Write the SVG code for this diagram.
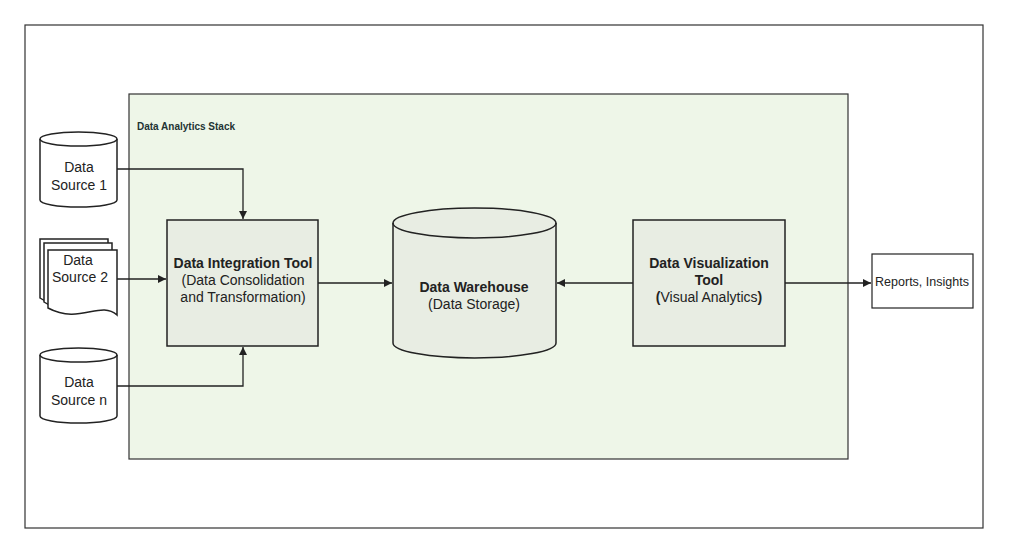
<svg xmlns="http://www.w3.org/2000/svg" width="1024" height="554" viewBox="0 0 1024 554">
<defs>
<style>
text{font-family:"Liberation Sans",Arial,sans-serif;font-size:14px;fill:#222;text-anchor:middle}
.b{font-weight:bold}
.sh{stroke:#222;stroke-width:1.5}
.ln{fill:none;stroke:#222;stroke-width:1.3}
</style>
<marker id="a" viewBox="0 0 10 10" refX="10" refY="5" markerWidth="8" markerHeight="8" orient="auto" markerUnits="userSpaceOnUse"><path d="M0,0L10,5L0,10z" fill="#222"/></marker>
</defs>
<rect width="1024" height="554" fill="#fff"/>
<rect x="25" y="25" width="958" height="503" fill="#fff" stroke="#333" stroke-width="1.2"/>
<g id="stack">
<rect x="129" y="94" width="719" height="365" fill="#eef6e8" stroke="#333" stroke-width="1.2"/>
<text x="137" y="130" class="b" style="font-size:10px;text-anchor:start;fill:#233">Data Analytics Stack</text>
</g>
<g id="ds1">
<path class="sh" fill="#fff" d="M40,139 A38.5,7 0 0 1 117,139 V200 A38.5,7 0 0 1 40,200 Z"/>
<path class="sh" fill="none" d="M40,139 A38.5,7 0 0 0 117,139"/>
<text x="79" y="172">Data</text><text x="79" y="190">Source 1</text>
</g>
<g id="ds2">
<path class="sh" fill="#fff" d="M40,239 H108 V300 C90,290 70,318 40,298 Z"/>
<path class="sh" fill="#fff" d="M44,243 H112 V304 C94,294 74,322 44,302 Z"/>
<path class="sh" fill="#fff" d="M48,250 H117 V315 C100,300 80,325 48,308 Z"/>
<text x="78" y="265">Data</text><text x="80" y="282">Source 2</text>
</g>
<g id="dsn">
<path class="sh" fill="#fff" d="M40,355 A38.5,7 0 0 1 117,355 V416 A38.5,7 0 0 1 40,416 Z"/>
<path class="sh" fill="none" d="M40,355 A38.5,7 0 0 0 117,355"/>
<text x="79" y="387">Data</text><text x="79" y="405">Source n</text>
</g>
<g id="integration">
<rect class="sh" x="167" y="220" width="151" height="126" fill="#e8ede3"/>
<text x="243" y="268" class="b">Data Integration Tool</text>
<text x="243" y="285">(Data Consolidation</text>
<text x="243" y="302">and Transformation)</text>
</g>
<g id="warehouse">
<path class="sh" fill="#e8ede3" d="M393,223 A81.5,15 0 0 1 556,223 V343 A81.5,15 0 0 1 393,343 Z"/>
<path class="sh" fill="none" d="M393,223 A81.5,15 0 0 0 556,223"/>
<text x="474" y="292" class="b">Data Warehouse</text>
<text x="474" y="309">(Data Storage)</text>
</g>
<g id="viz">
<rect class="sh" x="633" y="220" width="152" height="126" fill="#e8ede3"/>
<text x="709" y="268" class="b">Data Visualization</text>
<text x="709" y="285" class="b">Tool</text>
<text x="709" y="302"><tspan class="b">(</tspan>Visual Analytics<tspan class="b">)</tspan></text>
</g>
<g id="reports">
<rect x="872" y="254" width="101" height="54" fill="#fff" stroke="#222" stroke-width="1.2"/>
<text x="922" y="286" style="font-size:12.5px">Reports, Insights</text>
</g>
<g id="connectors">
<path class="ln" d="M117,169 H243 V219" marker-end="url(#a)"/>
<path class="ln" d="M117,279 H166" marker-end="url(#a)"/>
<path class="ln" d="M117,386 H243 V347" marker-end="url(#a)"/>
<path class="ln" d="M318,283 H392" marker-end="url(#a)"/>
<path class="ln" d="M633,283 H557" marker-end="url(#a)"/>
<path class="ln" d="M785,283 H871" marker-end="url(#a)"/>
</g>
</svg>
